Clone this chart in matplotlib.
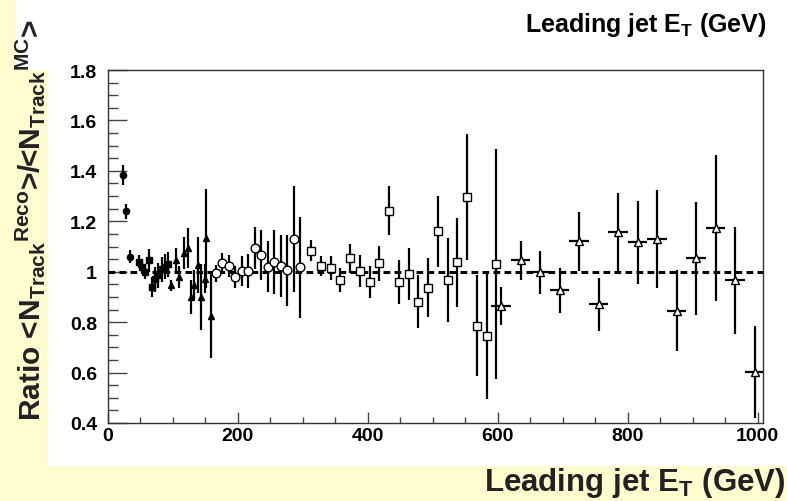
import matplotlib
matplotlib.use("Agg")
import matplotlib.pyplot as plt
from matplotlib.patches import Rectangle
from matplotlib.ticker import MultipleLocator, FormatStrFormatter

plt.rcParams["font.family"] = ["Liberation Sans", "DejaVu Sans"]
plt.rcParams["font.weight"] = "bold"
plt.rcParams["mathtext.fontset"] = "custom"
plt.rcParams["mathtext.rm"] = "Liberation Sans:bold"
plt.rcParams["mathtext.bf"] = "Liberation Sans:bold"
plt.rcParams["mathtext.it"] = "Liberation Sans:bold"

# filled circles
fcirc_x = [23, 28, 33.5]
fcirc_y = [1.385, 1.24, 1.06]
fcirc_e = [0.04, 0.03, 0.025]

# filled squares
fsq_x = [47.5, 52.5, 57.5, 62.5, 67.5, 72.5, 77.5, 82.5, 87.5, 92.5]
fsq_y = [1.04, 1.02, 1.00, 1.045, 0.94, 0.97, 0.985, 1.01, 1.02, 1.03]
fsq_e = [0.025, 0.03, 0.03, 0.045, 0.04, 0.05, 0.05, 0.05, 0.05, 0.05]

# filled triangles
ftri_x = [97.5, 104, 110, 117.5, 122.5, 128, 133, 138.5, 143.5, 149, 151, 158]
ftri_y = [0.946, 1.046, 0.98, 1.073, 1.093, 0.90, 0.946, 1.027, 0.90, 0.973, 1.133, 0.826]
ftri_e = [0.023, 0.047, 0.043, 0.063, 0.08, 0.067, 0.06, 0.11, 0.13, 0.057, 0.197, 0.17]

# open circles
ocirc_x = [166, 176, 186, 196, 206, 216, 226, 236, 246, 256, 266, 276, 286, 296]
ocirc_y = [0.993, 1.033, 1.024, 0.98, 1.004, 1.004, 1.093, 1.066, 1.02, 1.037,
           1.024, 1.006, 1.13, 1.017]
ocirc_e = [0.033, 0.043, 0.043, 0.043, 0.06, 0.067, 0.083, 0.098, 0.1, 0.127,
           0.123, 0.14, 0.21, 0.2]

# open squares
osq_x = [312.5, 327.5, 342.5, 357.5, 372.5, 387.5, 402.5, 417.5, 432.5, 447.5,
         462.5, 477.5, 492.5, 507.5, 522.5, 537.5, 552.5, 567.5, 582.5, 597.5]
osq_y = [1.084, 1.024, 1.016, 0.966, 1.053, 1.004, 0.96, 1.033, 1.242, 0.96,
         0.99, 0.88, 0.937, 1.16, 0.966, 1.037, 1.296, 0.786, 0.746, 1.029]
osq_e = [0.043, 0.04, 0.047, 0.047, 0.057, 0.063, 0.063, 0.07, 0.097, 0.087,
         0.103, 0.105, 0.117, 0.142, 0.167, 0.175, 0.25, 0.2, 0.25, 0.456]

# open triangles (30 GeV bins)
otri_x = [605, 635, 665, 695, 725, 755, 785, 815, 845, 875, 905, 935, 965, 995]
otri_y = [0.864, 1.046, 0.997, 0.926, 1.12, 0.87, 1.157, 1.117, 1.129, 0.845,
          1.053, 1.173, 0.966, 0.602]
otri_e = [0.075, 0.077, 0.086, 0.09, 0.118, 0.106, 0.155, 0.164, 0.195, 0.161,
          0.225, 0.288, 0.212, 0.183]
otri_xe = 15

bg = "#fffdd0"
fig = plt.figure(figsize=(7.87, 5.02), dpi=100, facecolor=bg)
fig.patches.append(Rectangle((47 / 787, 1 - 467 / 502), 1, 467 / 502,
                             transform=fig.transFigure, facecolor="white",
                             edgecolor="none", zorder=-10))
fig.patches.append(Rectangle((15 / 787, 1 - 71 / 502), 33 / 787, 71 / 502,
                             transform=fig.transFigure, facecolor="white",
                             edgecolor="none", zorder=-10))

ax = fig.add_axes([108 / 787, 1 - 424 / 502, (763 - 108) / 787, (424 - 71) / 502])
ax.set_xlim(0, 1008)
ax.set_ylim(0.4, 1.8)

eb = dict(fmt="none", ecolor="black", elinewidth=1.6, capsize=0, zorder=3)
ax.errorbar(fcirc_x, fcirc_y, yerr=fcirc_e, **eb)
ax.errorbar(fsq_x, fsq_y, yerr=fsq_e, **eb)
ax.errorbar(ftri_x, ftri_y, yerr=ftri_e, **eb)
ax.errorbar(ocirc_x, ocirc_y, yerr=ocirc_e, **eb)
ax.errorbar(osq_x, osq_y, yerr=osq_e, **eb)
ax.errorbar(otri_x, otri_y, yerr=otri_e, xerr=otri_xe, **eb)

ax.axhline(1.0, color="black", lw=2.2, ls=(0, (2.2, 1.4)), zorder=4)

mk = dict(ls="none", mec="black", mew=1.0, zorder=5)
ax.plot(fcirc_x, fcirc_y, "o", ms=4.5, mfc="black", **mk)
ax.plot(fsq_x, fsq_y, "s", ms=5, mfc="black", **mk)
ax.plot(ftri_x, ftri_y, "^", ms=5, mfc="black", **mk)
ax.plot(ocirc_x, ocirc_y, "o", ms=6.3, mfc="white", **mk)
ax.plot(osq_x, osq_y, "s", ms=6.3, mfc="white", **mk)
ax.plot(otri_x, otri_y, "^", ms=6.3, mfc="white", **mk)

ax.xaxis.set_major_locator(MultipleLocator(200))
ax.xaxis.set_minor_locator(MultipleLocator(50))
ax.yaxis.set_major_locator(MultipleLocator(0.2))
ax.yaxis.set_minor_locator(MultipleLocator(0.05))
ax.yaxis.set_major_formatter(FormatStrFormatter("%g"))
ax.tick_params(axis="both", which="both", direction="in", top=False, right=False,
               colors="#444444", labelcolor="black", labelsize=14)
ax.tick_params(axis="y", which="major", length=14, width=1, pad=8)
ax.tick_params(axis="y", which="minor", length=7, width=1)
ax.tick_params(axis="x", which="major", length=8, width=1, pad=3)
ax.tick_params(axis="x", which="minor", length=4, width=1)
for s in ax.spines.values():
    s.set_linewidth(1.0)
    s.set_color("#333333")

label = "Leading jet E$_{T}$ (GeV)"
fig.text(785 / 787, 1 - 491 / 502, label, ha="right", va="baseline",
         fontsize=22.5, fontweight="bold", color="#222222")
fig.text(767 / 787, 1 - 32 / 502, label, ha="right", va="baseline",
         fontsize=18, fontweight="bold", color="black")
fig.text(30 / 787, 1 - 421 / 502,
         "Ratio <N$_{Track}{}^{Reco}$>/<N$_{Track}{}^{MC}$>",
         rotation=90, ha="center", va="bottom", fontsize=21.5,
         fontweight="bold", color="#222222")

fig.savefig("out.png", dpi=100, facecolor=bg)
